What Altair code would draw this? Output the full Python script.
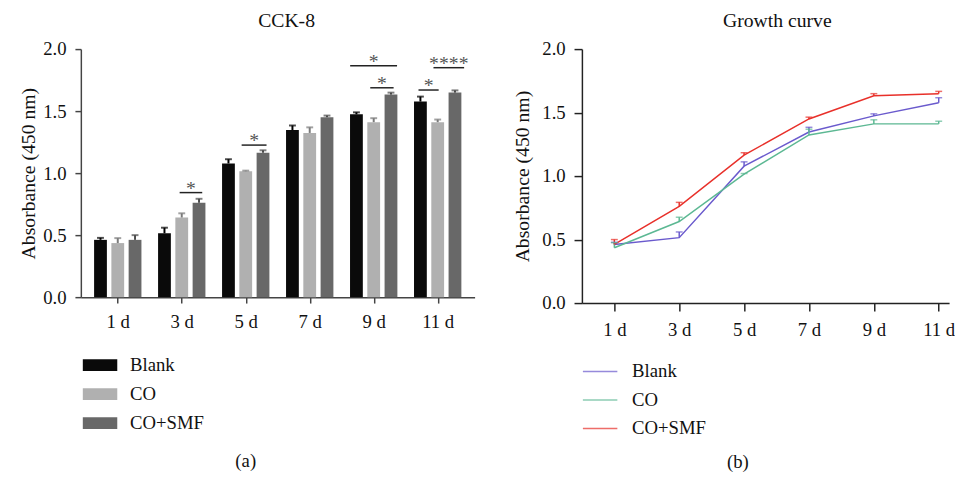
import altair as alt
import pandas as pd

# ---------------- data ----------------
days = ["1 d", "3 d", "5 d", "7 d", "9 d", "11 d"]
groups = ["Blank", "CO", "CO+SMF"]

blank_mean = [0.462, 0.515, 1.078, 1.347, 1.474, 1.577]
blank_upper = [0.478, 0.560, 1.112, 1.384, 1.490, 1.617]
co_mean = [0.436, 0.642, 1.015, 1.324, 1.411, 1.411]
co_upper = [0.476, 0.676, 1.020, 1.369, 1.443, 1.432]
smf_mean = [0.462, 0.761, 1.165, 1.450, 1.633, 1.649]
smf_upper = [0.500, 0.793, 1.184, 1.464, 1.649, 1.667]

# significance brackets (x in day-index units, y in absorbance)
sig_x1 = [0.967, 1.936, 3.632, 3.946, 4.700, 4.934]
sig_x2 = [1.320, 2.325, 4.365, 4.311, 5.015, 5.413]
sig_y = [0.843, 1.226, 1.865, 1.688, 1.670, 1.850]
sig_label = ["*", "*", "*", "*", "*", "****"]

# ---------------- style ----------------
FONT = "Liberation Serif"
bar_colors = ["#0a0a0a", "#b0b0b0", "#686868"]
err_colors = ["#000000", "#7a7a7a", "#4a4a4a"]
line_colors = ["#6a5acd", "#5cb893", "#e8302a"]
bar_shift = [-0.27, 0.0, 0.27]

means = [blank_mean, co_mean, smf_mean]
uppers = [blank_upper, co_upper, smf_upper]
rows = []
for gi, g in enumerate(groups):
    for di, d in enumerate(days):
        rows.append({"idx": di, "pos": di + bar_shift[gi], "group": g,
                     "mean": means[gi][di], "upper": uppers[gi][di]})
df = pd.DataFrame(rows)
sig = pd.DataFrame({"x1": sig_x1, "x2": sig_x2, "y": sig_y, "label": sig_label})

label_expr = "[" + ",".join("'" + d + "'" for d in days) + "][datum.value]"


def x_axis(title, tx, ty, tick, color, lpad):
    return alt.Axis(values=list(range(len(days))), labelExpr=label_expr, grid=False,
                    title=title, titleX=tx, titleY=ty, titleFont=FONT, titleFontSize=19,
                    titleFontWeight="normal", titleAlign="center", titleBaseline="middle",
                    titleColor="#111",
                    labelFont=FONT, labelFontSize=19, labelColor="#111", labelPadding=lpad,
                    tickSize=tick, tickColor=color, tickWidth=1.5,
                    domainColor=color, domainWidth=1.5)


def y_axis(tick, color, tpad):
    return alt.Axis(values=[0, 0.5, 1.0, 1.5, 2.0], format=".1f", grid=False,
                    title="Absorbance (450 nm)", titleFont=FONT, titleFontSize=20,
                    titleFontWeight="normal", titleColor="#111", titlePadding=tpad,
                    labelFont=FONT, labelFontSize=19, labelColor="#111", labelPadding=9,
                    tickSize=tick, tickColor=color, tickWidth=1.5,
                    domainColor=color, domainWidth=1.5)


# ---------------- left: CCK-8 bars ----------------
lx_scale = alt.Scale(domain=[-0.5, 5.5], nice=False, zero=False)
ly_scale = alt.Scale(domain=[0, 2], nice=False)
lxa = x_axis("(a)", 167, 166, 6, "#444", 10)
lya = y_axis(6, "#444", 4)

bars = alt.Chart(df).mark_bar(size=13).encode(
    x=alt.X("pos:Q", scale=lx_scale, axis=lxa),
    y=alt.Y("mean:Q", scale=ly_scale, axis=lya),
    color=alt.Color("group:N", scale=alt.Scale(domain=groups, range=bar_colors),
                    legend=alt.Legend(orient="none", legendX=2, legendY=303.5, title=None,
                                      symbolType="M-1,-0.343L1,-0.343L1,0.343L-1,0.343Z",
                                      symbolSize=1225, symbolStrokeWidth=0,
                                      symbolOpacity=1, labelFont=FONT, labelFontSize=19,
                                      labelColor="#111", labelOffset=13, rowPadding=1.5,
                                      padding=0)),
)
err_color = alt.Color("group:N", scale=alt.Scale(domain=groups, range=err_colors), legend=None)
err_rule = alt.Chart(df).mark_rule(strokeWidth=2).encode(
    x=alt.X("pos:Q", scale=lx_scale, axis=lxa),
    y=alt.Y("mean:Q", scale=ly_scale, axis=lya), y2="upper:Q", color=err_color)
err_cap = alt.Chart(df).mark_tick(orient="horizontal", size=7, thickness=2).encode(
    x=alt.X("pos:Q", scale=lx_scale, axis=lxa),
    y=alt.Y("upper:Q", scale=ly_scale, axis=lya), color=err_color)

sig_rule = alt.Chart(sig).mark_rule(strokeWidth=1.5, color="#222").encode(
    x=alt.X("x1:Q", scale=lx_scale, axis=lxa), x2="x2:Q",
    y=alt.Y("y:Q", scale=ly_scale, axis=lya))
sig_text = alt.Chart(sig).transform_calculate(mid="(datum.x1 + datum.x2) / 2").mark_text(
    font=FONT, fontSize=20, fill="#555", color="#555", baseline="alphabetic", dy=2).encode(
    x=alt.X("mid:Q", scale=lx_scale, axis=lxa),
    y=alt.Y("y:Q", scale=ly_scale, axis=lya), text="label:N")

left = alt.layer(bars, err_rule, err_cap, sig_rule, sig_text).resolve_scale(
    color="independent").resolve_legend(color="independent").properties(
    width=400, height=252,
    title=alt.TitleParams("CCK-8", font=FONT, fontSize=20, fontWeight="normal",
                          color="#111", frame="group", offset=9, dx=9))

# ---------------- right: growth curve ----------------
rx_scale = alt.Scale(domain=[-0.5, 5.16], nice=False, zero=False)
ry_scale = alt.Scale(domain=[0, 2], nice=False)
rxa = x_axis("(b)", 158, 161, 8, "#222", 10)
rya = y_axis(8, "#222", 10)
rcolor = alt.Color("group:N", scale=alt.Scale(domain=groups, range=line_colors),
                   legend=alt.Legend(orient="none", legendX=0, legendY=309, title=None,
                                     symbolType="stroke", symbolSize=1225,
                                     symbolStrokeWidth=1.5, labelFont=FONT,
                                     labelFontSize=19, labelColor="#111", labelOffset=14,
                                     rowPadding=-1.5, padding=0))

lines = alt.Chart(df).mark_line(strokeWidth=1.5).encode(
    x=alt.X("idx:Q", scale=rx_scale, axis=rxa),
    y=alt.Y("mean:Q", scale=ry_scale, axis=rya), color=rcolor)
r_rule = alt.Chart(df).mark_rule(strokeWidth=1.5).encode(
    x=alt.X("idx:Q", scale=rx_scale, axis=rxa),
    y=alt.Y("mean:Q", scale=ry_scale, axis=rya), y2="upper:Q", color=rcolor)
r_cap = alt.Chart(df).mark_tick(orient="horizontal", size=7, thickness=1.5).encode(
    x=alt.X("idx:Q", scale=rx_scale, axis=rxa),
    y=alt.Y("upper:Q", scale=ry_scale, axis=rya), color=rcolor)

right = alt.layer(lines, r_rule, r_cap).properties(
    width=373, height=258,
    title=alt.TitleParams("Growth curve", font=FONT, fontSize=20, fontWeight="normal",
                          color="#111", frame="group", offset=9, dx=12))

chart = alt.hconcat(left, right, spacing=38).resolve_scale(
    color="independent").resolve_legend(color="independent").properties(
    padding={"left": 11, "top": 0, "right": 0, "bottom": 5},
    background="white",
).configure_view(stroke=None)

chart.save("out.html", embed_options={"renderer": "svg", "actions": False})
